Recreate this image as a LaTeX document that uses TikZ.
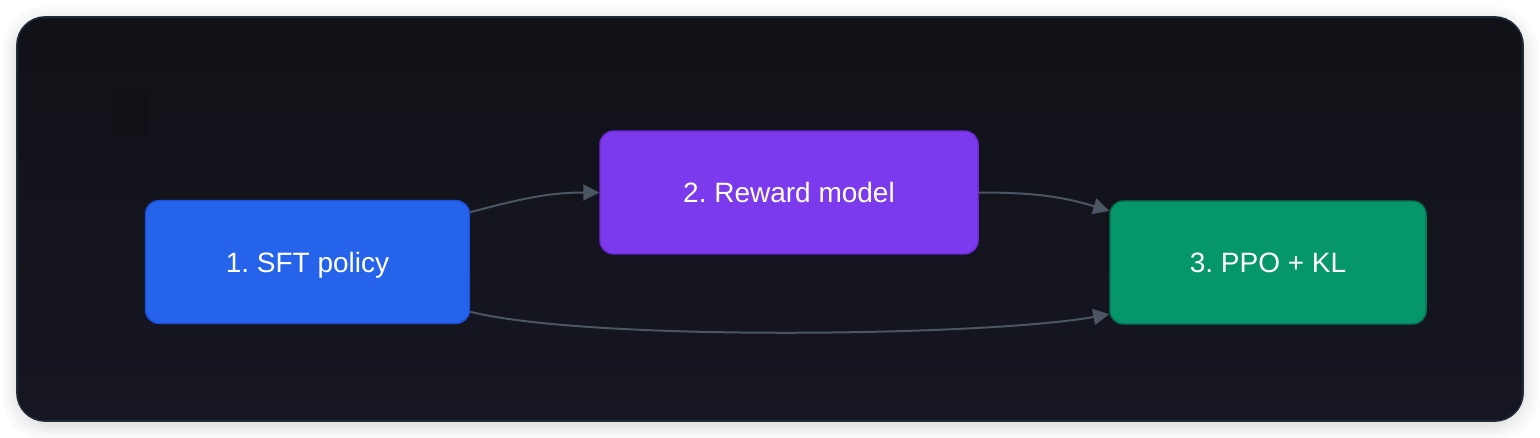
\documentclass[tikz,border=0pt]{standalone}
\usepackage{fontspec}
\setmainfont{Liberation Sans}
\usetikzlibrary{arrows.meta}
\definecolor{pagebg}{HTML}{FFFFFF}
\definecolor{paneltop}{HTML}{111217}
\definecolor{panelbot}{HTML}{151621}
\definecolor{panelline}{HTML}{1F2937}
\definecolor{sftfill}{HTML}{2563EB}
\definecolor{sftline}{HTML}{1D4ED8}
\definecolor{rmfill}{HTML}{7C3AED}
\definecolor{rmline}{HTML}{6D28D9}
\definecolor{ppofill}{HTML}{059669}
\definecolor{ppoline}{HTML}{047857}
\definecolor{edgegray}{HTML}{4B5563}
\tikzstyle{stage} = [rectangle, rounded corners=10pt, inner sep=0pt, minimum height=92pt, text centered, text=white, text height=15pt, text depth=0pt, line width=1.1pt, font=\fontsize{21}{25}\selectfont\frenchspacing]
\tikzstyle{arrow} = [line width=1.5pt, draw=edgegray, -{Triangle[length=12pt,width=12pt]}]
\begin{document}
\begin{tikzpicture}[x=0.75pt,y=-0.75pt]
            \useasboundingbox (0,0) rectangle (1540,438);
            \fill [pagebg] (0,0) rectangle (1540,438);
            % soft shadow round the panel
            \foreach \s in {14,10,7,4,2}
                \fill [black, opacity=0.018, rounded corners=30pt] (17-\s,17-\s+4) rectangle (1523+\s,421+\s+4);
            \shade [top color=paneltop, bottom color=panelbot, rounded corners=21pt] (17,17) rectangle (1523,421);
            \draw [panelline, line width=1.2pt, rounded corners=21pt] (17,17) rectangle (1523,421);
            \fill [black, opacity=0.08] (113,90) rectangle (147,137);
            \node [stage, fill=sftfill, draw=sftline, minimum width=243pt] at (307.5,262) (sft) {1. SFT policy};
            \node [stage, fill=rmfill, draw=rmline, minimum width=283.5pt] at (789,192.5) (reward) {2. Reward model};
            \node [stage, fill=ppofill, draw=ppoline, minimum width=237pt] at (1268,262.5) (ppo) {3. PPO + KL};
            \draw [arrow] (sft.17) to[out=15,in=180] (reward.west);
            \draw [arrow] (reward.east) to[out=0,in=163] (ppo.162);
            \draw [arrow] (sft.-17) .. controls +(120,30) and +(-120,22) .. (ppo.198);
            \end{tikzpicture}
\end{document}
